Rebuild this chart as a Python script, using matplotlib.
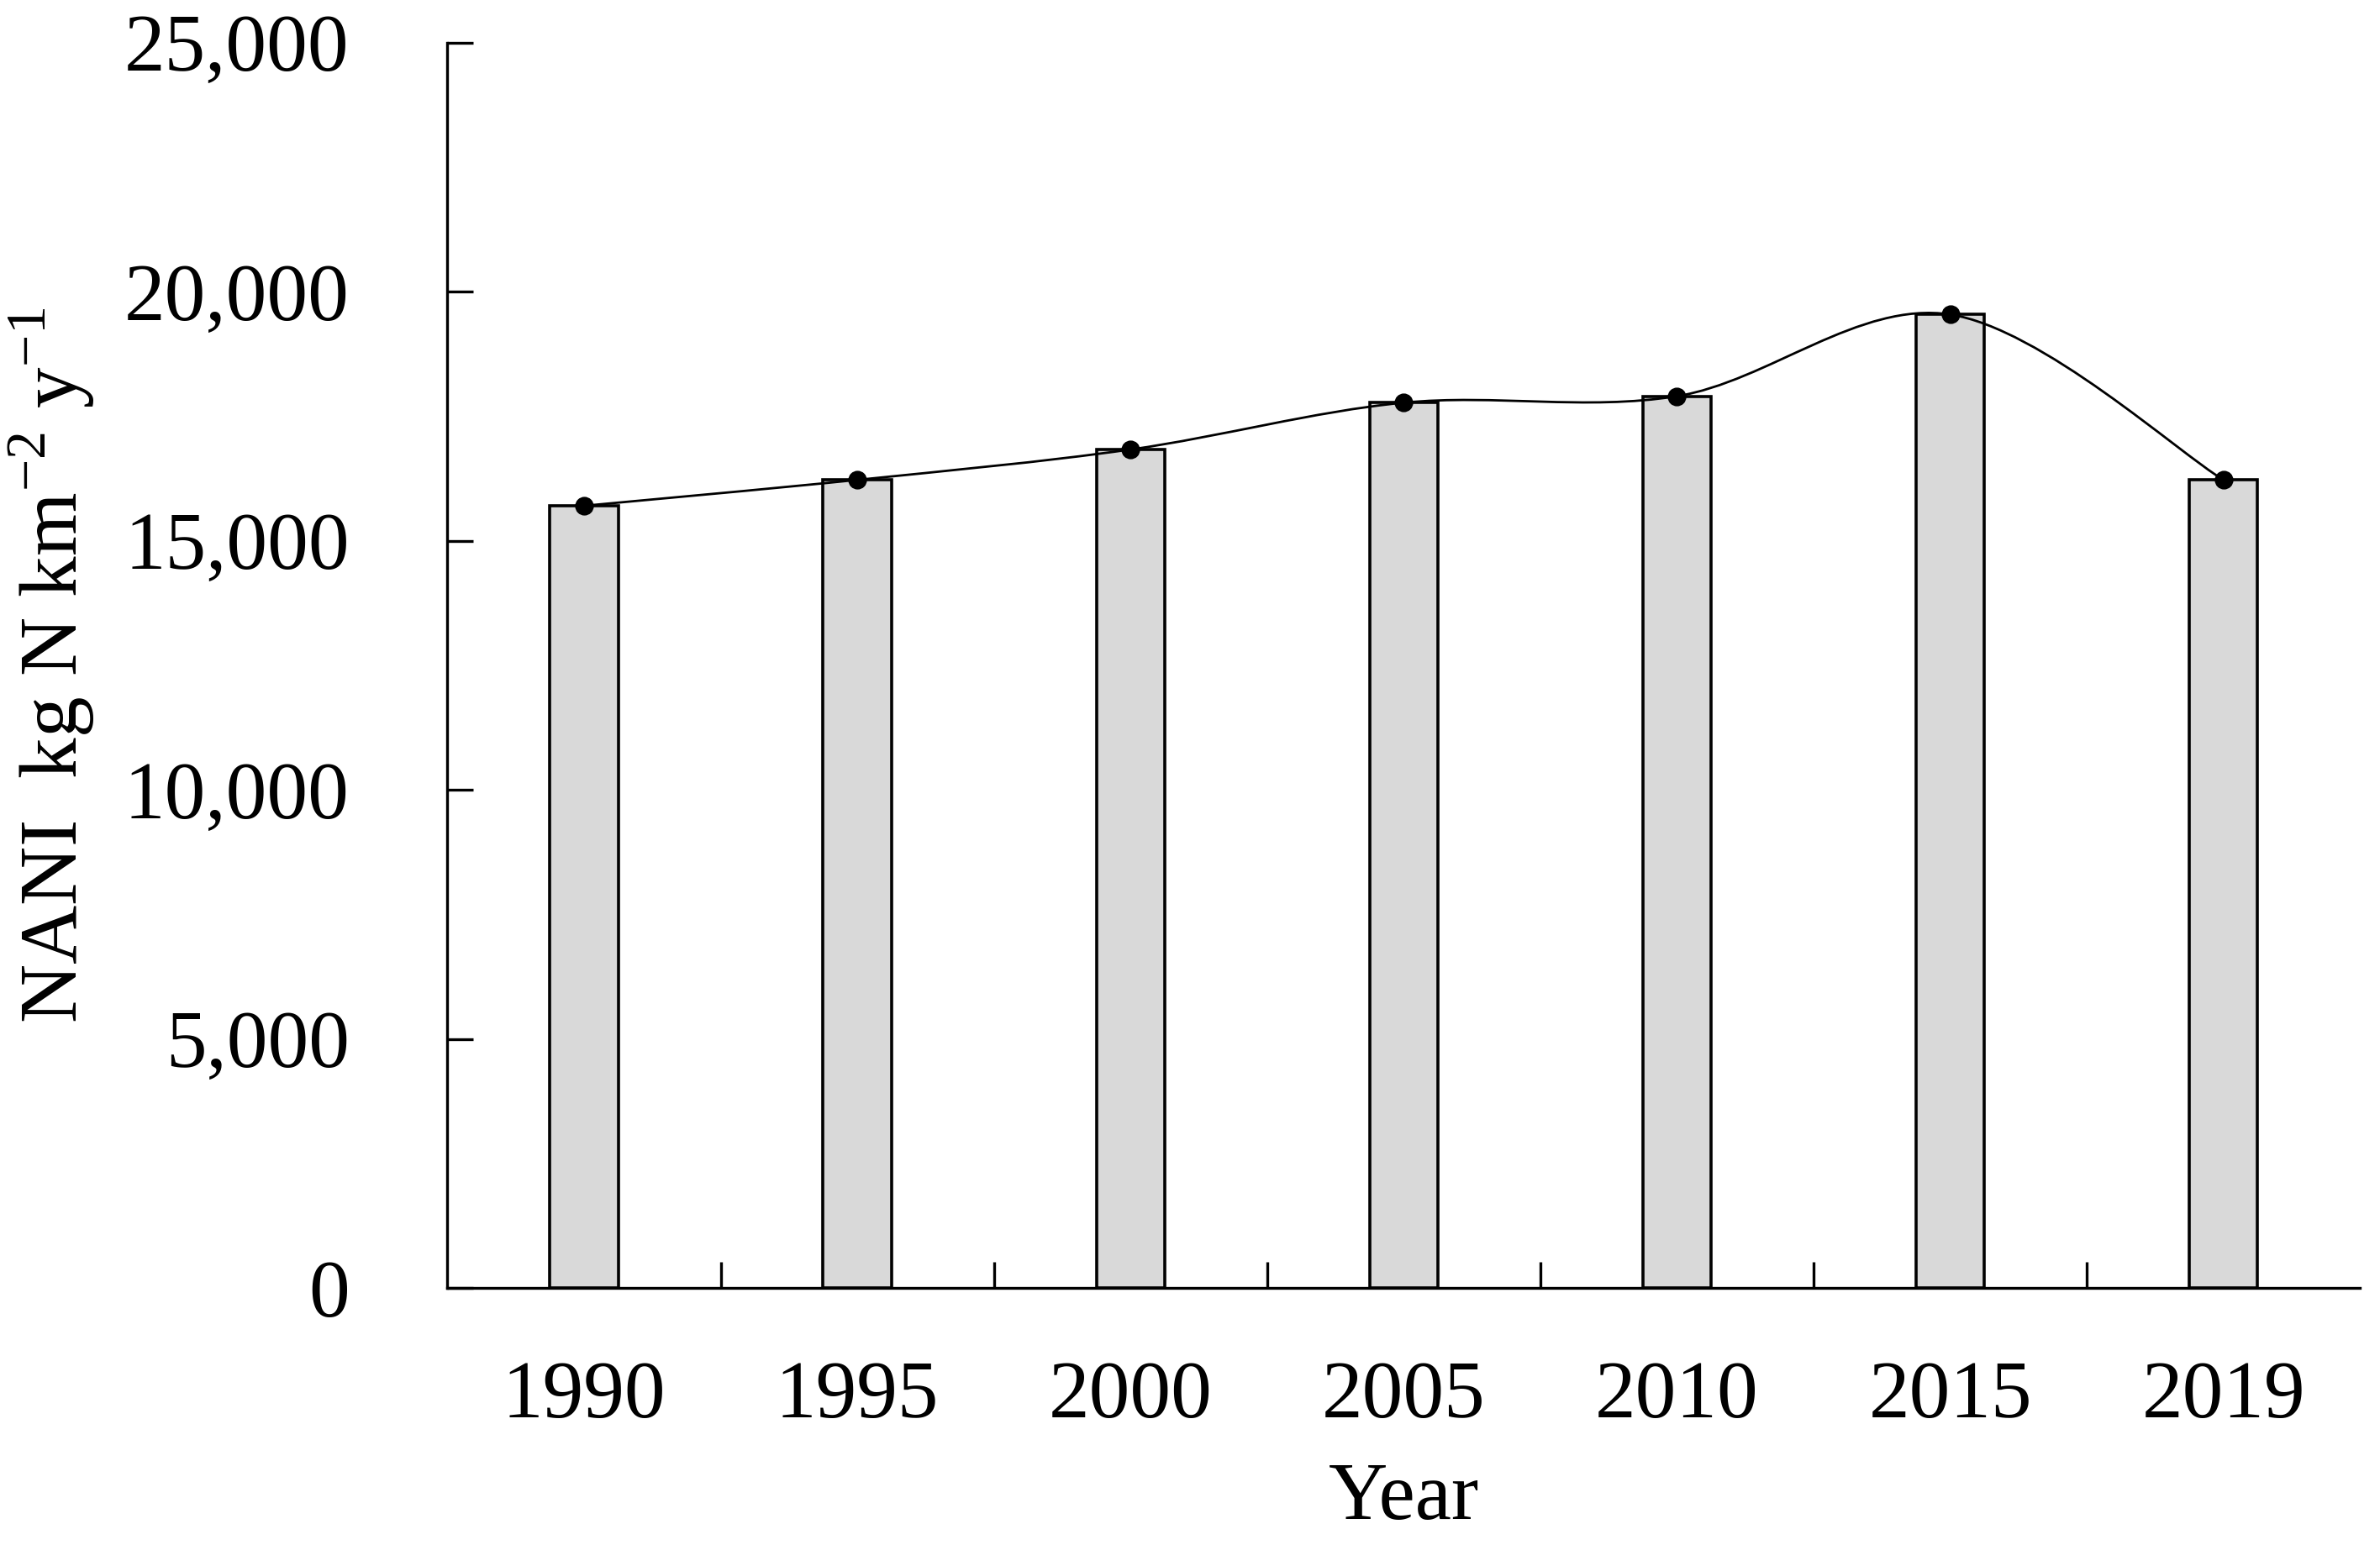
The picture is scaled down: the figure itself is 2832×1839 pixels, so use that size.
import numpy as np
import matplotlib
matplotlib.use('Agg')
import matplotlib.pyplot as plt
from matplotlib.path import Path
from matplotlib.patches import PathPatch
from matplotlib.ticker import FuncFormatter, FixedLocator

years = ['1990', '1995', '2000', '2005', '2010', '2015', '2019']
nani = [15700, 16220, 16830, 17770, 17900, 19540, 16220]

plt.rcParams['font.family'] = ['Liberation Serif', 'DejaVu Serif']
plt.rcParams['mathtext.fontset'] = 'custom'
plt.rcParams['mathtext.rm'] = 'Liberation Serif'

fig = plt.figure(figsize=(14.16, 9.195), dpi=200)
ax = fig.add_axes([0.188, 0.1664, 0.8036, 0.8061])

x = np.arange(len(years))
ax.bar(x, nani, width=0.25, color='#d9d9d9', edgecolor='black', linewidth=1.3, zorder=2)

# smoothed line (Catmull-Rom as cubic Bezier segments)
pts = np.column_stack([x, nani]).astype(float)
ext = np.vstack([pts[0], pts, pts[-1]])
verts = [tuple(pts[0])]
codes = [Path.MOVETO]
for i in range(len(pts) - 1):
    p0, p1, p2, p3 = ext[i], ext[i + 1], ext[i + 2], ext[i + 3]
    c1 = p1 + (p2 - p0) / 6
    c2 = p2 - (p3 - p1) / 6
    verts += [tuple(c1), tuple(c2), tuple(p2)]
    codes += [Path.CURVE4] * 3
ax.add_patch(PathPatch(Path(verts, codes), facecolor='none', edgecolor='black',
                       linewidth=1.0, zorder=3))
ax.plot(x, nani, linestyle='none', marker='o', color='black', markersize=7, zorder=4)

ax.set_xlim(-0.5, len(years) - 0.5)
ax.set_ylim(0, 25000)
ax.set_yticks(np.arange(0, 25001, 5000))
ax.yaxis.set_major_formatter(FuncFormatter(lambda v, p: f'{int(v):,}'))
ax.set_xticks(x)
ax.set_xticklabels(years)
ax.xaxis.set_minor_locator(FixedLocator(np.arange(0.5, len(years) - 1, 1.0)))

ax.tick_params(axis='y', direction='in', length=11, width=1.2, labelsize=35, pad=42)
ax.tick_params(axis='x', which='major', length=0, labelsize=35, pad=31)
ax.tick_params(axis='x', which='minor', direction='in', length=11, width=1.2)

for s in ['top', 'right']:
    ax.spines[s].set_visible(False)
for s in ['left', 'bottom']:
    ax.spines[s].set_linewidth(1.2)

ax.set_xlabel('Year', fontsize=35, labelpad=12)
ax.set_ylabel(r'NANI  kg N km$^{-2}$ y$^{-1}$', fontsize=35, labelpad=12)

fig.savefig('out.png', dpi=200, facecolor='white')
